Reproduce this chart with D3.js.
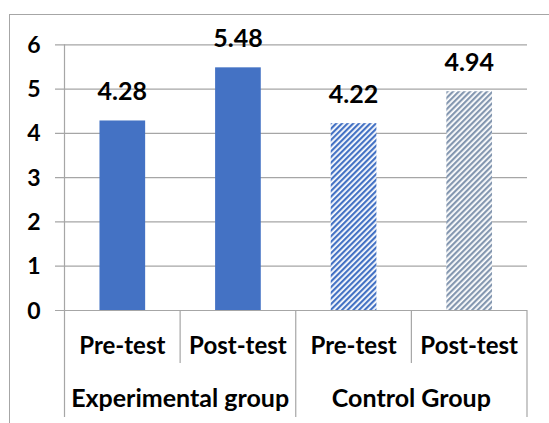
<!DOCTYPE html>
<html>
<head>
<meta charset="utf-8">
<script src="https://cdn.jsdelivr.net/npm/d3@7"></script>
<style>
  html, body { margin: 0; padding: 0; background: #fff; }
  svg { display: block; }
  text { font-family: Lato, "Open Sans", sans-serif; font-weight: 700; fill: #000; }
</style>
</head>
<body>
<svg id="chart" width="549" height="423"></svg>
<script>
// ---- data ----
const categories = ["Pre-test", "Post-test", "Pre-test", "Post-test"];
const groups = ["Experimental group", "Experimental group", "Control Group", "Control Group"];
const groupNames = ["Experimental group", "Control Group"];
const values = [4.28, 5.48, 4.22, 4.94];
const valueLabels = ["4.28", "5.48", "4.22", "4.94"];
const yTicks = [0, 1, 2, 3, 4, 5, 6];

// ---- layout ----
const svg = d3.select("#chart");
const plotLeft = 64.5, plotRight = 527, plotTop = 44.3, plotBottom = 310;
const gridColor = "#a6a6a6";
const ids = categories.map((c, i) => i);

const x = d3.scaleBand().domain(ids).range([plotLeft, plotRight]).paddingInner(0.605).paddingOuter(0.3025);
const xCat = d3.scaleBand().domain(ids).range([plotLeft, plotRight]);
const y = d3.scaleLinear().domain([0, 6]).range([plotBottom, plotTop]);

// patterns
const defs = svg.append("defs");
function stripe(id, color) {
  const p = defs.append("pattern").attr("id", id)
    .attr("patternUnits", "userSpaceOnUse").attr("width", 4).attr("height", 4)
    .attr("patternTransform", "rotate(45)");
  p.append("rect").attr("width", 4).attr("height", 4).attr("fill", "#fff");
  p.append("rect").attr("width", 2.2).attr("height", 4).attr("fill", color);
}
stripe("pat1", "#4472c4");
stripe("pat2", "#8497b0");
const fills = ["#4472c4", "#4472c4", "url(#pat1)", "url(#pat2)"];

// chart border
svg.append("rect").attr("x", 9.5).attr("y", 14.5).attr("width", 600).attr("height", 500)
  .attr("fill", "#fff").attr("stroke", "#a6a6a6").attr("stroke-width", 1);

// y axis / gridlines
const yAxis = svg.append("g").attr("transform", `translate(${plotRight},0)`)
  .call(d3.axisLeft(y).tickValues(yTicks).tickSize(plotRight - 55).tickPadding(14.5).tickFormat(d3.format("d")));
yAxis.select(".domain").remove();
yAxis.selectAll(".tick line").attr("stroke", gridColor).attr("stroke-width", 1.2);
yAxis.selectAll(".tick text").attr("dy", "0.35em").style("font-size", "23px")
  .style("font-family", "Lato, sans-serif").style("font-weight", 700).attr("fill", "#000");

// bars
svg.append("g").selectAll("rect").data(ids).join("rect")
  .attr("x", i => x(i)).attr("width", x.bandwidth())
  .attr("y", i => y(values[i])).attr("height", i => y(0) - y(values[i]))
  .attr("fill", i => fills[i]);

// data labels
svg.append("g").selectAll("text").data(ids).join("text")
  .attr("x", i => x(i) + x.bandwidth() / 2)
  .attr("y", i => y(values[i]) - 20)
  .attr("text-anchor", "middle").style("font-size", "25px")
  .text(i => valueLabels[i]);

// category axis lines
const catBoundaries = [plotLeft].concat(ids.map(i => xCat(i) + xCat.bandwidth()));
svg.append("g").selectAll("line").data(catBoundaries).join("line")
  .attr("x1", d => d).attr("x2", d => d)
  .attr("y1", (d, k) => k === 0 ? plotTop : plotBottom)
  .attr("y2", (d, k) => (k % 2 === 0) ? 417 : 363)
  .attr("stroke", gridColor).attr("stroke-width", 1.2);

// category labels
svg.append("g").selectAll("text").data(ids).join("text")
  .attr("x", i => xCat(i) + xCat.bandwidth() / 2).attr("y", 354)
  .attr("text-anchor", "middle").style("font-size", "24px")
  .text(i => categories[i]);

// group labels
svg.append("g").selectAll("text").data(groupNames).join("text")
  .attr("x", g => {
    const idx = ids.filter(i => groups[i] === g);
    return (xCat(idx[0]) + xCat(idx[idx.length - 1]) + xCat.bandwidth()) / 2;
  })
  .attr("y", 407).attr("text-anchor", "middle").style("font-size", "25px")
  .text(g => g);
</script>
</body>
</html>
